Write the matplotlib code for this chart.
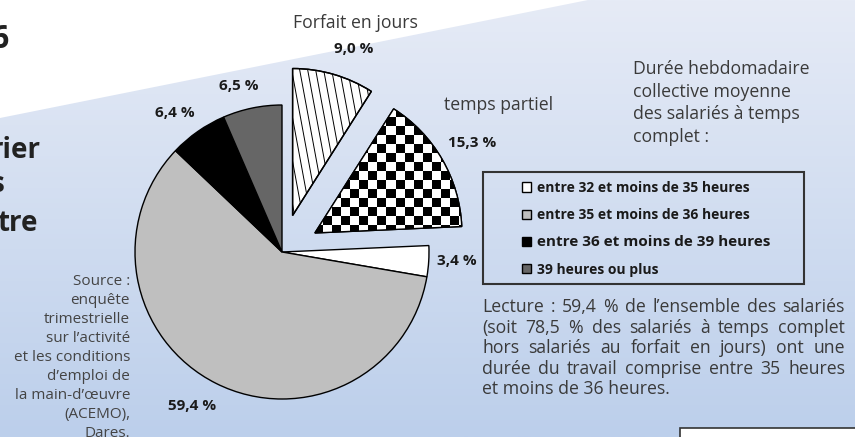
import numpy as np
import matplotlib.pyplot as plt
from matplotlib.colors import LinearSegmentedColormap
from matplotlib.patches import Polygon, Rectangle, PathPatch

plt.rcParams['font.family'] = ['Open Sans', 'DejaVu Sans']

# data
categories = ["Forfait en jours", "temps partiel",
              "entre 32 et moins de 35 heures", "entre 35 et moins de 36 heures",
              "entre 36 et moins de 39 heures", "39 heures ou plus"]
shares = [9.0, 15.3, 3.4, 59.4, 6.4, 6.5]
slice_colors = ["white", "white", "white", "#bfbfbf", "black", "#666666"]
explode = [38, 38, 0, 0, 0, 0]

lecture = ["Lecture : 59,4 % de l’ensemble des salariés",
           "(soit 78,5 % des salariés à temps complet",
           "hors salariés au forfait en jours) ont une",
           "durée du travail comprise entre 35 heures",
           "et moins de 36 heures."]
source = ["Source :", "enquête", "trimestrielle", "sur l’activité",
          "et les conditions", "d’emploi de", "la main-d’œuvre",
          "(ACEMO),", "Dares."]
duree = ["Durée hebdomadaire", "collective moyenne",
         "des salariés à temps", "complet :"]

W, H = 855, 437
fig = plt.figure(figsize=(8.55, 4.37), dpi=100)
ax = fig.add_axes([0, 0, 1, 1])

def py(y):
    # pixel row (from top) -> data y
    return H - y

# background
grad = np.linspace(0, 1, 256).reshape(-1, 1)
bg = LinearSegmentedColormap.from_list("bg", ["#bccfeb", "#e6ebf6"])
ax.imshow(grad, extent=(0, W, 0, H), origin="lower", cmap=bg, aspect="auto", zorder=0)
ax.add_patch(Polygon([(0, H), (0, py(118)), (588, H)], closed=True,
                     fc="white", lw=0, zorder=0.5))

# pie
wedges, _ = ax.pie(shares, colors=slice_colors, startangle=90, counterclock=False,
                   explode=explode, center=(282, py(252)), radius=147,
                   wedgeprops=dict(edgecolor="black", linewidth=1), frame=True)
for w in wedges:
    w.set_zorder(2)

# hatch lines on "forfait en jours"
for k in range(-10, 40):
    x0 = 240 + k * 8
    ln, = ax.plot([x0, x0 + 0.185 * 200], [py(50), py(250)], color="black",
                  lw=0.7, zorder=2.5)
    ln.set_clip_path(wedges[0])

# checkerboard on "temps partiel"
cell = 9
nx, ny = 20, 19
checker = np.indices((ny, nx)).sum(axis=0) % 2
im = ax.imshow(checker, extent=(296, 296 + nx * cell, py(252), py(252) + ny * cell),
               origin="lower", cmap="gray", interpolation="nearest",
               aspect="auto", zorder=2.5)
im.set_clip_path(wedges[1])
for w in wedges[:2]:
    ax.add_patch(PathPatch(w.get_path(), fill=False, ec="black", lw=1, zorder=3))

# percentage labels
def fmt(v):
    return f"{v:.1f}".replace(".", ",") + " %"

label_pos = [(354, 53), (472, 147), (457, 265), (192, 410), (175, 117), (239, 90)]
for v, (x, y) in zip(shares, label_pos):
    ax.text(x, py(y), fmt(v), ha="center", va="baseline", fontsize=11,
            fontweight="bold", color="#1a1a1a", zorder=4)

body = dict(fontsize=12.7, color="#3a3a3a", va="baseline", zorder=4)
ax.text(355, py(28), categories[0], ha="center", **body)
ax.text(499, py(110), categories[1], ha="center", **body)

for i, line in enumerate(duree):
    ax.text(633, py(74 + 22.7 * i), line, ha="left", **body)

for i, line in enumerate(source):
    ax.text(130, py(285 + 19 * i), line, ha="right", fontsize=11, color="#444444",
            va="baseline", zorder=4)

# justified reading note
r = fig.canvas.get_renderer()
x_left, x_right = 482, 845
for i, line in enumerate(lecture):
    y = py(312 + 20.6 * i)
    if i == len(lecture) - 1:
        ax.text(x_left, y, line, ha="left", **body)
        continue
    words = line.split(" ")
    txts = [ax.text(0, y, wd, ha="left", **body) for wd in words]
    widths = [t.get_window_extent(r).width for t in txts]
    gap = (x_right - x_left - sum(widths)) / (len(words) - 1)
    x = x_left
    for t, wd in zip(txts, widths):
        t.set_x(x)
        x += wd + gap

# legend
ax.add_patch(Rectangle((483, py(284)), 321, 112, fill=False, ec="#333333",
                       lw=1.5, zorder=4))
leg = ax.legend(wedges[2:], categories[2:], loc="upper left",
                bbox_to_anchor=(522, py(181)), bbox_transform=ax.transData,
                frameon=False, handlelength=0.65, handleheight=0.65,
                handletextpad=0.4, labelspacing=0.95, borderpad=0,
                borderaxespad=0, prop=dict(weight="bold", size=10))
for t in leg.get_texts():
    t.set_color("#1a1a1a")
leg.get_texts()[2].set_fontsize(11)
leg.set_zorder(5)

# cropped title fragments at the left edge
title = dict(fontweight="bold", color="#222222", ha="right", va="baseline", zorder=4)
ax.text(9, py(48), "6", fontsize=23, **title)
ax.text(41, py(158), "rier", fontsize=20, **title)
ax.text(5, py(192), "s", fontsize=20, **title)
ax.text(38, py(231), "tre", fontsize=20, **title)

# box at the bottom right
ax.add_patch(Rectangle((680, -5), 200, 14, fc="white", ec="#333333", lw=1.2, zorder=4))

ax.set_xlim(0, W)
ax.set_ylim(0, H)
ax.axis("off")
fig.savefig("out.png", dpi=100)
